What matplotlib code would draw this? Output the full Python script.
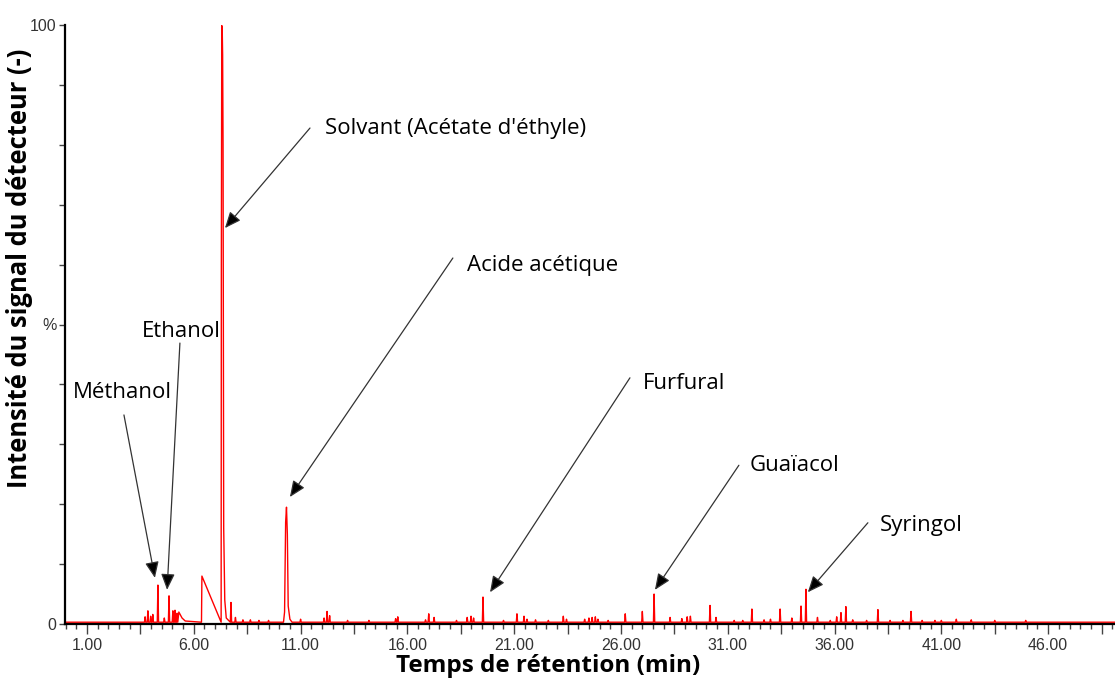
import numpy as np
import matplotlib
matplotlib.use("Agg")
import matplotlib.pyplot as plt
from matplotlib.ticker import FixedLocator, MultipleLocator

# ---------------------------------------------------------------------------
# Chromatogram data (retention time in min, intensity in %)
# ---------------------------------------------------------------------------
baseline = 0.3

# narrow spikes
spike_times = [3.72, 3.85, 3.98, 4.08, 4.32, 4.62, 4.84, 5.02, 5.12, 5.22,
               7.74, 7.95, 8.3, 8.65, 9.05, 9.5, 11.0,
               12.1, 12.24, 12.36, 13.2, 14.2, 15.45, 15.55,
               16.85, 17.0, 17.25, 18.3, 18.8, 18.98, 19.1, 19.54,
               20.5, 21.13, 21.46, 21.6, 22.0, 22.6, 23.3, 23.45,
               24.3, 24.5, 24.65, 24.8, 24.92, 25.4, 26.2, 27.0, 27.55,
               28.3, 28.85, 29.1, 29.25, 30.17, 30.45, 31.3, 31.7,
               32.13, 32.7, 33.0, 33.45, 34.0, 34.43, 34.66, 35.2,
               35.8, 36.1, 36.3, 36.53, 36.85, 37.5, 38.03, 38.6,
               39.2, 39.58, 40.1, 40.7, 41.0, 41.7, 42.4, 43.5, 44.95]
spike_heights = [1.2, 2.2, 1.3, 1.6, 6.5, 1.0, 4.7, 2.2, 2.3, 1.8,
                 3.6, 1.1, 0.7, 0.7, 0.6, 0.6, 0.8,
                 1.0, 2.1, 1.4, 0.6, 0.6, 0.9, 1.2,
                 0.7, 1.7, 1.1, 0.6, 1.1, 1.3, 1.0, 4.5,
                 0.6, 1.7, 1.3, 0.8, 0.7, 0.6, 1.3, 0.8,
                 0.8, 1.0, 1.1, 1.2, 0.8, 0.6, 1.7, 2.1, 5.0,
                 1.1, 0.9, 1.2, 1.3, 3.1, 1.1, 0.6, 0.6,
                 2.5, 0.7, 0.8, 2.5, 1.0, 3.0, 5.8, 1.1,
                 0.6, 1.2, 1.9, 2.9, 0.7, 0.6, 2.4, 0.6,
                 0.6, 2.1, 0.6, 0.6, 0.6, 0.8, 0.7, 0.6, 0.6]

# broad features: Ethanol hump, baseline jump, solvent, acetic acid
feature_times = [5.3, 5.45, 5.6, 6.36, 6.38, 7.28,
                 7.29, 7.31, 7.33, 7.35, 7.37, 7.40, 7.45, 7.52,
                 10.2, 10.25, 10.30, 10.34, 10.38, 10.42, 10.5, 10.6]
feature_heights = [2.0, 1.0, 0.5, 0.3, 8.0, 0.3,
                   60.0, 99.9, 99.5, 95.0, 80.0, 16.0, 4.0, 1.0,
                   0.3, 2.0, 17.0, 19.5, 15.0, 3.0, 0.8, 0.3]

labels = ["Méthanol", "Ethanol", "Solvant (Acétate d'éthyle)", "Acide acétique",
          "Furfural", "Guaïacol", "Syringol"]
label_xy = [(2.64, 38.7), (5.40, 48.9), (12.14, 82.8), (18.79, 59.9),
            (27.03, 40.2), (32.04, 26.4), (38.13, 16.5)]
label_ha = ["center", "center", "left", "left", "left", "left", "left"]
arrow_start = [(2.73, 34.9), (5.35, 46.9), (11.44, 82.8), (18.13, 61.1),
               (26.42, 41.1), (31.52, 26.5), (37.56, 16.9)]
arrow_end = [(4.18, 7.7), (4.75, 5.7), (7.46, 66.1), (10.50, 21.2),
             (19.87, 5.3), (27.59, 5.7), (34.75, 5.3)]

# ---------------------------------------------------------------------------
# build the trace
# ---------------------------------------------------------------------------
w = 0.03
pts_t = [0.0, 49.2]
pts_y = [baseline, baseline]
for t, h in zip(spike_times, spike_heights):
    pts_t += [t - w, t, t + w]
    pts_y += [baseline, h, baseline]
pts_t += feature_times
pts_y += feature_heights
order = np.argsort(pts_t, kind="stable")
trace_t = np.asarray(pts_t)[order]
trace_y = np.asarray(pts_y)[order]

fig = plt.figure(figsize=(11.15, 6.78), dpi=100)
ax = fig.add_axes([65 / 1115, 54 / 678, 1050 / 1115, 599 / 678])
ax.plot(trace_t, trace_y, color="red", lw=1.0, clip_on=False)

ax.set_xlim(-0.03, 49.13)
ax.set_ylim(0, 100)
for s in ("top", "right"):
    ax.spines[s].set_visible(False)
for s in ("left", "bottom"):
    ax.spines[s].set_linewidth(1.6)

# x ticks: labels every 5 min, major every 2.5, minor every 0.5
major_x = np.arange(1, 49.2, 2.5)
ax.xaxis.set_major_locator(FixedLocator(major_x))
ax.set_xticklabels([f"{v:.2f}" if (v - 1) % 5 == 0 else "" for v in major_x],
                   fontsize=11.5, family="Liberation Sans", color="#333333")
ax.xaxis.set_minor_locator(MultipleLocator(0.5))
ax.tick_params(axis="x", which="major", length=7, width=1, color="#444444", pad=3)
ax.tick_params(axis="x", which="minor", length=3.5, width=1, color="#444444")

ax.yaxis.set_major_locator(MultipleLocator(10))
ax.set_yticklabels(["0" if v == 0 else "%" if v == 50 else "100" if v == 100 else ""
                    for v in ax.get_yticks()],
                   fontsize=11.5, family="Liberation Sans", color="#333333")
ax.tick_params(axis="y", length=4, width=1, color="#444444", pad=2)

ax.set_xlabel("Temps de rétention (min)", fontsize=17.5, fontweight="bold",
              family="Open Sans")
ax.xaxis.set_label_coords(0.46, -0.07)
ax.xaxis.label.set_va("center")
ax.set_ylabel("Intensité du signal du détecteur (-)", fontsize=18.4,
              fontweight="bold", family="Open Sans")
ax.yaxis.set_label_coords(-0.043, 0.593)
ax.yaxis.label.set_va("center")

for lab, xy, ha, p0, p1 in zip(labels, label_xy, label_ha, arrow_start, arrow_end):
    ax.text(xy[0], xy[1], lab, fontsize=16, family="Open Sans", ha=ha, va="center")
    ax.annotate("", xy=p1, xytext=p0,
                arrowprops=dict(arrowstyle="-|>,head_length=0.7,head_width=0.3",
                                mutation_scale=14, lw=0.9, color="#333333",
                                fc="black", shrinkA=0, shrinkB=0))

fig.savefig("out.png", dpi=100)
